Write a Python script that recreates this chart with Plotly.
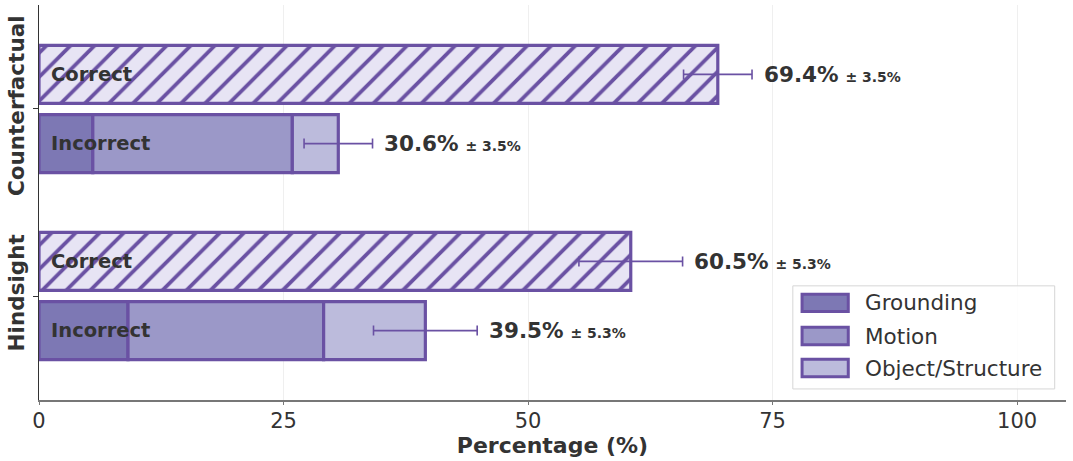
import plotly.graph_objects as go

# ---- data ----
groups = ["Hindsight", "Counterfactual"]          # bottom -> top
group_pos = [0, 1]
correct = [60.5, 69.4]
incorrect = [39.5, 30.6]
err = [5.3, 3.5]
grounding = [9.1, 5.5]
motion = [20.0, 20.4]
object_structure = [10.4, 4.7]
seg_names = ["Grounding", "Motion", "Object/Structure"]
seg_values = [grounding, motion, object_structure]
x_ticks = [0, 25, 50, 75, 100]

# ---- style ----
EDGE = "#6a51a3"
CORRECT_FILL = "#e7e4f4"
SEG_COLORS = ["#7d78b4", "#9b98c8", "#bcbbdc"]
TXT = "#333333"
FONT = "DejaVu Sans"
BAR_W = 0.31
OFF = 0.185

fig = go.Figure()

y_cor = [g + OFF for g in group_pos]
y_inc = [g - OFF for g in group_pos]

fig.add_trace(go.Bar(
    x=correct, y=y_cor, orientation="h", width=BAR_W,
    marker=dict(color=CORRECT_FILL, line=dict(color=EDGE, width=3.2),
                pattern=dict(shape="/", fgcolor=EDGE, bgcolor=CORRECT_FILL, fgopacity=1,
                             size=17, solidity=0.22)),
    showlegend=False, hoverinfo="skip"))

base = [0.0 for _ in group_pos]
for name, vals, col in zip(seg_names, seg_values, SEG_COLORS):
    fig.add_trace(go.Bar(
        x=vals, y=y_inc, base=list(base), orientation="h", width=BAR_W,
        marker=dict(color=col, line=dict(color=EDGE, width=3.2)),
        name=name, showlegend=False, hoverinfo="skip"))
    base = [b + v for b, v in zip(base, vals)]

# error bars
fig.add_trace(go.Scatter(
    x=correct + incorrect, y=y_cor + y_inc, mode="markers",
    marker=dict(size=1, color="rgba(0,0,0,0)"),
    error_x=dict(type="data", array=err + err, color=EDGE, thickness=1.6, width=5),
    showlegend=False, hoverinfo="skip"))

annotations = []
for i, g in enumerate(group_pos):
    for yy, lab in [(y_cor[i], "Correct"), (y_inc[i], "Incorrect")]:
        annotations.append(dict(x=1.0, y=yy, xref="x", yref="y", text=f"<b>{lab}</b>",
                                showarrow=False, xanchor="left", yanchor="middle",
                                font=dict(family=FONT, size=19.5, color=TXT)))
    for yy, v in [(y_cor[i], correct[i]), (y_inc[i], incorrect[i])]:
        annotations.append(dict(
            x=v + err[i] + 1.0, y=yy, xref="x", yref="y",
            text=f"<b>{v:.1f}%</b> <span style='font-size:14px'><b>± {err[i]:.1f}%</b></span>",
            showarrow=False, xanchor="left", yanchor="middle",
            font=dict(family=FONT, size=21.5, color=TXT)))

# manual legend (paper coords)
shapes = []
lx0, lx1, ly0, ly1 = 0.734, 0.989, 0.028, 0.289
shapes.append(dict(type="rect", xref="paper", yref="paper", x0=lx0, x1=lx1, y0=ly0, y1=ly1,
                   line=dict(color="#d6d6d6", width=1), fillcolor="rgba(255,255,255,0.85)",
                   layer="above"))
row_y = [0.246, 0.162, 0.081]
for name, col, ry in zip(seg_names, SEG_COLORS, row_y):
    shapes.append(dict(type="rect", xref="paper", yref="paper",
                       x0=0.743, x1=0.788, y0=ry - 0.022, y1=ry + 0.022,
                       line=dict(color=EDGE, width=3), fillcolor=col, layer="above"))
    annotations.append(dict(x=0.802, y=ry, xref="paper", yref="paper", text=name,
                            showarrow=False, xanchor="left", yanchor="middle",
                            font=dict(family=FONT, size=21.5, color=TXT)))

fig.update_layout(
    width=1073, height=461,
    margin=dict(l=39, r=7, t=5, b=61),
    plot_bgcolor="white", paper_bgcolor="white",
    barmode="overlay",
    font=dict(family=FONT, color=TXT),
    annotations=annotations, shapes=shapes,
    xaxis=dict(range=[0, 105], tickvals=x_ticks, ticktext=[str(t) for t in x_ticks],
               tickfont=dict(size=21, color=TXT, family=FONT), automargin=False,
               showgrid=True, gridcolor="#efefef", gridwidth=1,
               zeroline=False, showline=True, linecolor="#777777", linewidth=1.6,
               ticks="outside", ticklen=3, tickcolor="#777777", ticklabelstandoff=-2,
               title=dict(text="<b>Percentage (%)</b>", font=dict(size=22, color=TXT, family=FONT),
                          standoff=4)),
    yaxis=dict(range=[-0.556, 1.556], tickvals=group_pos, automargin=False,
               ticktext=[f"<b>{g}</b>" for g in groups], tickangle=-90,
               tickfont=dict(size=21.5, color=TXT, family=FONT),
               showgrid=False, zeroline=False, showline=True, linecolor="#333333",
               linewidth=1.2, ticks="outside", ticklen=5, tickcolor="#333333"),
)

fig.write_html("out.html")
